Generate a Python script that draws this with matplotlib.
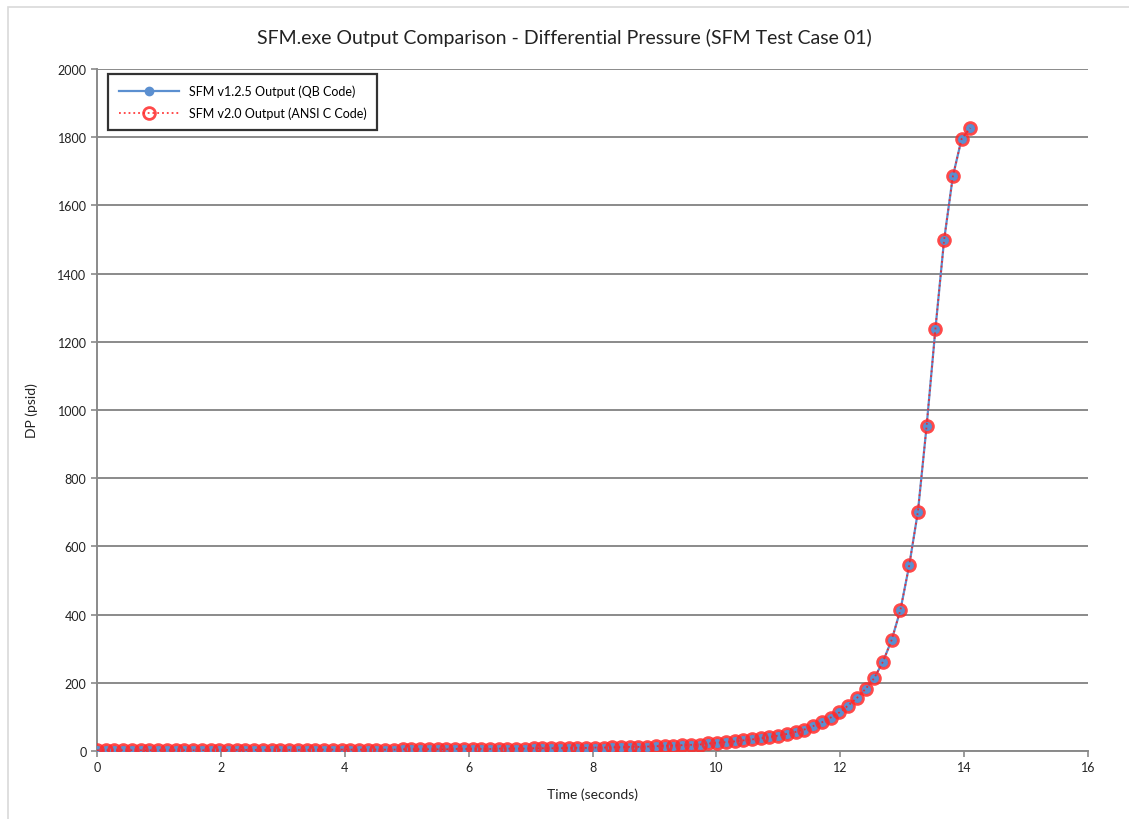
import numpy as np
import matplotlib
matplotlib.use("Agg")
import matplotlib.pyplot as plt
from matplotlib.patches import Rectangle

# Simulation time step and differential pressure history (psid)
time_step = 0.141
dp_qb = [
    2, 2, 2, 2, 2, 2, 2, 2, 2, 2,
    2, 2, 2, 2, 3, 3, 3, 3, 3, 3,
    3, 3, 3, 3, 3, 3, 4, 4, 4, 4,
    4, 4, 4, 4, 4, 5, 5, 5, 5, 5,
    5, 6, 6, 6, 6, 6, 7, 7, 7, 7,
    8, 8, 8, 8, 9, 9, 9, 10, 10, 11,
    11, 12, 12, 13, 14, 15, 16, 17, 18, 19,
    22, 24, 26, 28, 31, 34, 37, 41, 45, 50,
    56, 63, 73, 84, 98, 113, 133, 155, 182, 214,
    262, 326, 414, 544, 702, 954, 1237, 1499, 1685, 1795,
    1827,
]
dp_ansi = list(dp_qb)
time_s = [i * time_step for i in range(len(dp_qb))]

x_ticks = [0, 2, 4, 6, 8, 10, 12, 14, 16]
y_ticks = [0, 200, 400, 600, 800, 1000, 1200, 1400, 1600, 1800, 2000]

plt.rcParams['font.family'] = ['Lato', 'DejaVu Sans']

fig = plt.figure(figsize=(11.29, 8.2), dpi=100)
W, H = 1129, 820
ax = fig.add_axes([97 / W, 1 - 752 / H, (1088 - 97) / W, (752 - 70) / H])

# light frame around the chart
fig.add_artist(Rectangle((8 / W, -0.01), 1.2, 1 - 8 / H + 0.01, transform=fig.transFigure,
                         fill=False, edgecolor='#d9d9d9', linewidth=1.2))

ax.plot(time_s, dp_qb, color='#5b8fd0', linewidth=1.6, marker='o', markersize=6,
        markerfacecolor='#5b8fd0', markeredgecolor='#5b8fd0',
        label='SFM v1.2.5 Output (QB Code)', zorder=3)
ax.plot(time_s, dp_ansi, color='#ff1a1a', linewidth=1.3, linestyle=':', marker='o',
        markersize=8.5, markerfacecolor='none', markeredgecolor='#ff2a2a',
        markeredgewidth=2.0, alpha=0.85,
        label='SFM v2.0 Output (ANSI C Code)', zorder=4)

ax.set_xlim(0, 16)
ax.set_ylim(0, 2000)
ax.set_xticks(x_ticks)
ax.set_yticks(y_ticks)
ax.yaxis.grid(True, color='#8a8a8a', linewidth=1.4)
ax.set_axisbelow(True)
for s in ['top', 'right']:
    ax.spines[s].set_visible(False)
for s in ['left', 'bottom']:
    ax.spines[s].set_color('#8a8a8a')
    ax.spines[s].set_linewidth(1.4)
ax.tick_params(axis='both', colors='#8a8a8a', labelcolor='#222222', labelsize=9,
               length=4, width=1.2)

ax.set_xlabel('Time (seconds)', fontsize=10, color='#222222', labelpad=10)
ax.set_ylabel('DP (psid)', fontsize=10, color='#222222', labelpad=14)

fig.text(0.5, 1 - 38 / H, 'SFM.exe Output Comparison - Differential Pressure (SFM Test Case 01)',
         ha='center', va='center', fontsize=14, color='#222222')

leg = ax.legend(loc='upper left', bbox_to_anchor=(11 / 991, 1 - 5 / 682), fontsize=9,
                frameon=True, fancybox=False, borderpad=0.85, labelspacing=0.75,
                handlelength=4.8, handletextpad=0.8, borderaxespad=0)
leg.get_frame().set_edgecolor('black')
leg.get_frame().set_linewidth(1.6)

fig.savefig('out.png', dpi=100)
